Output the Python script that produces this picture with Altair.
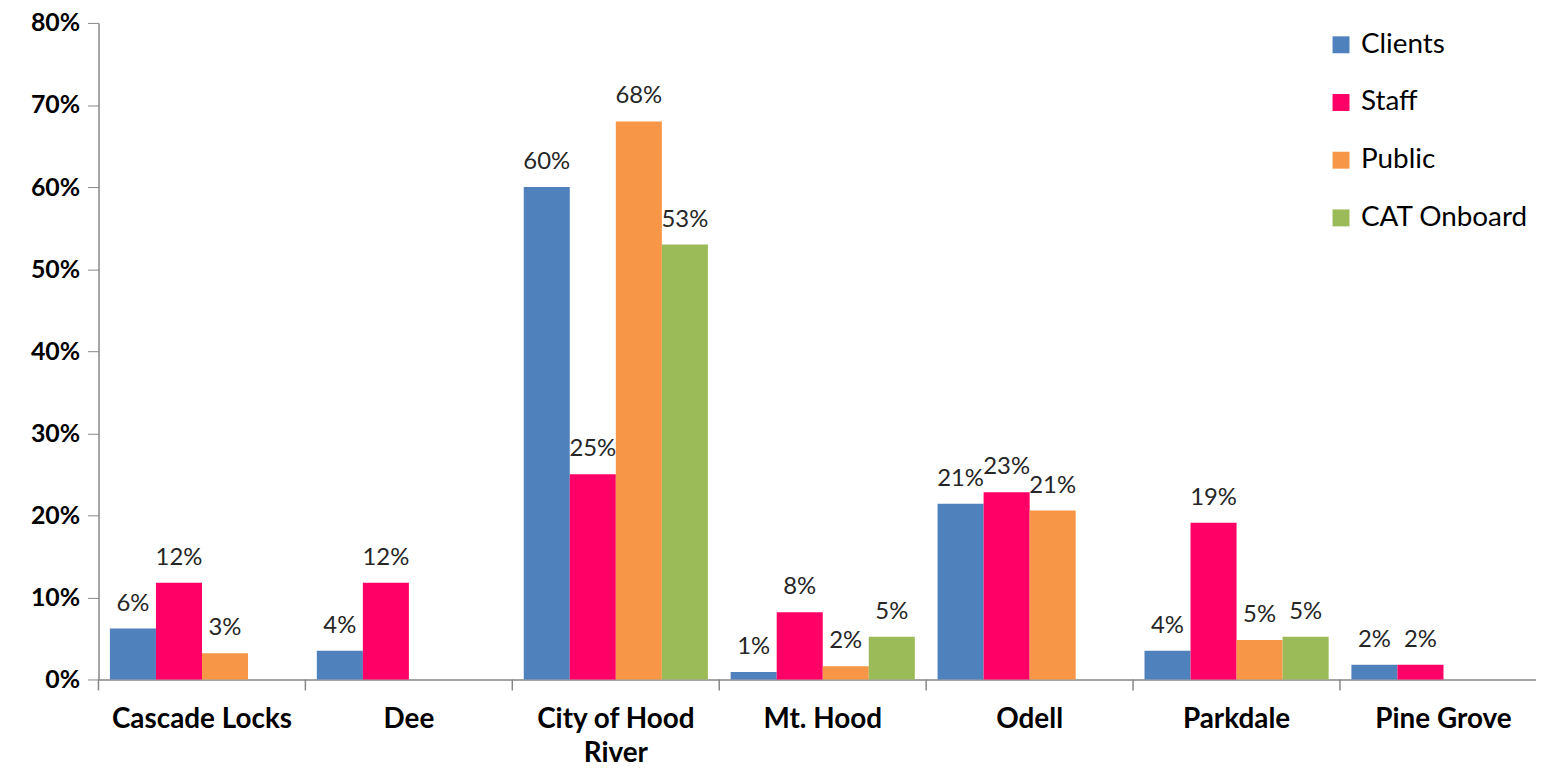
import altair as alt
import pandas as pd

categories = ["Cascade Locks", "Dee", "City of Hood River", "Mt. Hood", "Odell", "Parkdale", "Pine Grove"]
series = ["Clients", "Staff", "Public", "CAT Onboard"]
colors = ["#4F81BD", "#FF0066", "#F79646", "#9BBB59"]

clients = [6.2, 3.5, 60.0, 0.9, 21.4, 3.5, 1.8]
staff = [11.8, 11.8, 25.0, 8.2, 22.8, 19.1, 1.8]
public = [3.2, None, 68.0, 1.6, 20.6, 4.8, None]
cat_onboard = [None, None, 53.0, 5.2, None, 5.2, None]

rows = []
for s, vals in zip(series, [clients, staff, public, cat_onboard]):
    for c, v in zip(categories, vals):
        if v is not None:
            rows.append({"Area": c, "Group": s, "Value": v / 100.0})
df = pd.DataFrame(rows)
ticks_df = pd.DataFrame({"Area": categories})

FONT = "Lato"
GREY = "#868686"

x = alt.X("Area:N", sort=categories, title=None,
          scale=alt.Scale(paddingInner=0.11, paddingOuter=0.055, range=[0, 1456]),
          axis=alt.Axis(labelAngle=0, labelFontSize=28, labelFontWeight="bold", labelFont=FONT,
                        labelColor="#000000", labelPadding=26, labelLineHeight=34, labelLimit=400,
                        labelExpr="datum.label == 'City of Hood River' ? ['City of Hood', 'River'] : datum.label",
                        ticks=False, domainColor=GREY, domainWidth=1.5, grid=False))
xo = alt.XOffset("Group:N", sort=series, scale=alt.Scale(paddingInner=0, paddingOuter=0))
y = alt.Y("Value:Q", title=None,
          scale=alt.Scale(domain=[0, 0.8], nice=False),
          axis=alt.Axis(values=[0, 0.1, 0.2, 0.3, 0.4, 0.5, 0.6, 0.7, 0.8], format=".0%",
                        labelFontSize=25, labelFontWeight="bold", labelFont=FONT,
                        labelColor="#000000", labelPadding=8, tickSize=11, tickColor=GREY,
                        domainColor=GREY, domainWidth=1.5, grid=False))

bars = alt.Chart(df).mark_bar().encode(
    x=x, xOffset=xo, y=y,
    color=alt.Color("Group:N", sort=series, scale=alt.Scale(domain=series, range=colors),
                    legend=alt.Legend(title=None, orient="none", legendX=1235, legendY=8,
                                      symbolType="square", symbolSize=290, symbolStrokeWidth=0,
                                      labelFontSize=28, labelFont=FONT, labelColor="#000000",
                                      labelLimit=400, rowPadding=30, labelOffset=6))
)

# category separator ticks below the x axis (between bar groups)
sep_ticks = alt.Chart(ticks_df).mark_rule(color=GREY, strokeWidth=1.5, xOffset=-11.5).encode(
    x=alt.X("Area:N", sort=categories, bandPosition=0),
    y=alt.value(660), y2=alt.value(671)
)

labels = alt.Chart(df).mark_text(baseline="middle", dy=-25, fontSize=24, font=FONT, color="#262626").encode(
    x=alt.X("Area:N", sort=categories), xOffset=alt.XOffset("Group:N", sort=series), y="Value:Q",
    text=alt.Text("Value:Q", format=".0%")
)

chart = (bars + sep_ticks + labels).properties(
    width=1445, height=660,
    autosize=alt.AutoSizeParams(type="none"),
    padding={"left": 91, "top": 13, "right": 0, "bottom": 89},
).configure(background="#ffffff").configure_view(stroke=None)

chart.save("out.html", embed_options={"renderer": "svg", "actions": False})
